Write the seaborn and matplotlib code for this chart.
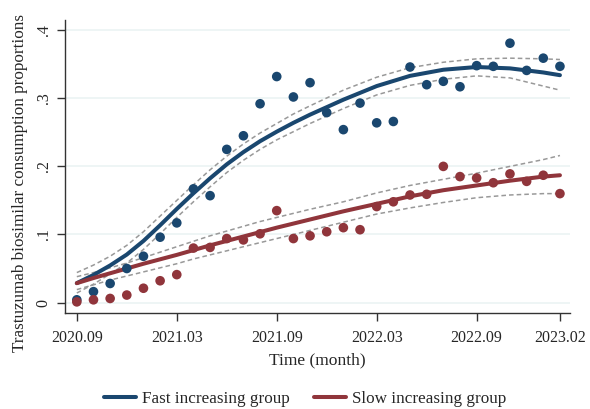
import numpy as np
import pandas as pd
import seaborn as sns
import matplotlib.pyplot as plt
from matplotlib.lines import Line2D

# observed monthly proportions, Sep 2020 .. Feb 2023 (30 months)
months = np.arange(30)
fast = [0.004, 0.016, 0.028, 0.050, 0.068, 0.096, 0.117, 0.167, 0.157, 0.225,
        0.245, 0.292, 0.332, 0.302, 0.323, 0.279, 0.254, 0.293, 0.264, 0.266,
        0.346, 0.320, 0.325, 0.317, 0.348, 0.347, 0.381, 0.341, 0.359, 0.347]
slow = [0.001, 0.004, 0.006, 0.011, 0.021, 0.032, 0.041, 0.080, 0.081, 0.094,
        0.092, 0.101, 0.135, 0.094, 0.098, 0.104, 0.110, 0.107, 0.141, 0.148,
        0.158, 0.159, 0.200, 0.185, 0.183, 0.176, 0.189, 0.178, 0.187, 0.160]

# fitted trajectories and 95% CI
fit_months = [0, 1, 2, 3, 4, 5, 6, 7, 8, 9, 10, 11, 12, 13, 14,
              16, 18, 20, 22, 24, 26, 28, 29]
fast_fit = [0.0285, 0.0405, 0.0545, 0.0705, 0.0905, 0.1135, 0.1375, 0.1605,
            0.1825, 0.203, 0.221, 0.237, 0.251, 0.264, 0.276,
            0.298, 0.318, 0.333, 0.342, 0.346, 0.344, 0.338, 0.334]
fast_hi = [0.044, 0.055, 0.068, 0.084, 0.104, 0.127, 0.150, 0.173,
           0.195, 0.215, 0.233, 0.249, 0.263, 0.277, 0.289,
           0.312, 0.331, 0.345, 0.353, 0.358, 0.359, 0.358, 0.357]
fast_lo = [0.014, 0.027, 0.042, 0.058, 0.078, 0.101, 0.125, 0.148,
           0.170, 0.191, 0.209, 0.225, 0.239, 0.251, 0.263,
           0.285, 0.305, 0.319, 0.328, 0.333, 0.330, 0.318, 0.312]
slow_fit = [0.0285, 0.036, 0.043, 0.050, 0.057, 0.0635, 0.070, 0.077,
            0.084, 0.0905, 0.097, 0.1035, 0.110, 0.116, 0.122,
            0.134, 0.145, 0.156, 0.165, 0.172, 0.179, 0.185, 0.187]
slow_hi = [0.038, 0.044, 0.051, 0.058, 0.066, 0.074, 0.082, 0.090,
           0.098, 0.105, 0.112, 0.119, 0.125, 0.131, 0.137,
           0.148, 0.161, 0.172, 0.181, 0.190, 0.200, 0.210, 0.216]
slow_lo = [0.019, 0.026, 0.033, 0.039, 0.045, 0.051, 0.057, 0.064,
           0.070, 0.076, 0.082, 0.088, 0.094, 0.100, 0.106,
           0.118, 0.130, 0.139, 0.147, 0.154, 0.158, 0.160, 0.160]

tick_pos = [0, 6, 12, 18, 24, 29]
tick_labels = ["2020.09", "2021.03", "2021.09", "2022.03", "2022.09", "2023.02"]
groups = ["Fast increasing group", "Slow increasing group"]

obs = pd.DataFrame({"month": np.concatenate([months, months]),
                    "prop": fast + slow,
                    "group": [groups[0]] * 30 + [groups[1]] * 30})

BLUE = "#1a476f"
RED = "#90353b"
GREY = "#999999"

sns.set_style("white")
plt.rcParams["font.family"] = ["Liberation Serif", "DejaVu Serif"]

fig = plt.figure(figsize=(5.9, 4.09), dpi=100)
ax = fig.add_axes([0.111, 0.235, 0.855, 0.716])

for y in [0, 0.1, 0.2, 0.3, 0.4]:
    ax.axhline(y, color="#eaf2f3", lw=1.1, zorder=0)

handles = []
for name, fit, lo, hi, col in [(groups[0], fast_fit, fast_lo, fast_hi, BLUE),
                               (groups[1], slow_fit, slow_lo, slow_hi, RED)]:
    for band in (lo, hi):
        sns.lineplot(x=fit_months, y=band, color=GREY, lw=1.1,
                     ax=ax, zorder=2).lines[-1].set_linestyle((0, (3, 2)))
    sns.lineplot(x=fit_months, y=fit, color=col, lw=2.9, ax=ax, zorder=3)
    handles.append(Line2D([0], [0], color=col, lw=2.9, label=name))

sns.scatterplot(data=obs, x="month", y="prop", hue="group",
                palette=[BLUE, RED], s=48, edgecolor="none",
                legend=False, ax=ax, zorder=4)

ax.set_xlim(-0.68, 29.6)
ax.set_ylim(-0.0152, 0.415)
ax.set_xticks(tick_pos)
ax.set_xticklabels(tick_labels, fontsize=11.5)
ax.set_yticks([0, 0.1, 0.2, 0.3, 0.4])
ax.set_yticklabels(["0", ".1", ".2", ".3", ".4"], fontsize=11.5, rotation=90, va="center")
ax.tick_params(axis="both", direction="out", length=6, width=1, color="#333333",
               bottom=True, left=True)
ax.tick_params(axis="x", pad=6)
ax.tick_params(axis="y", pad=4)
ax.set_xlabel("Time (month)", fontsize=12.6, labelpad=5)
ax.set_ylabel("Trastuzumab biosimilar consumption proportions", fontsize=12.3)
ax.yaxis.set_label_coords(-0.074, 0.442)

for side in ["top", "right"]:
    ax.spines[side].set_visible(False)
for side in ["left", "bottom"]:
    ax.spines[side].set_color("#333333")
    ax.spines[side].set_linewidth(1.0)

fig.legend(handles=handles, loc="center", bbox_to_anchor=(0.517, 0.024),
           ncol=2, frameon=False, fontsize=12.3, handlelength=1.86,
           columnspacing=1.45, handletextpad=0.35)

fig.savefig("out.png", dpi=100)
